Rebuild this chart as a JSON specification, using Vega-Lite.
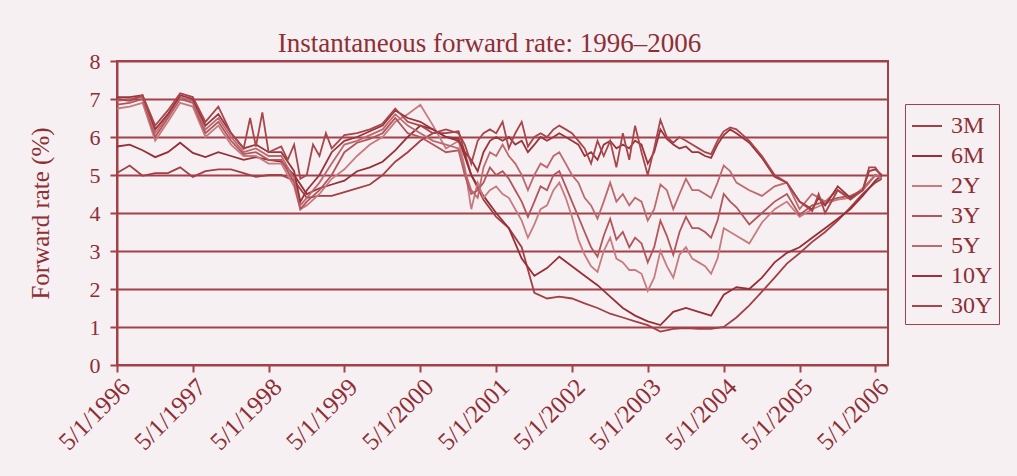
{
"$schema":"https://vega.github.io/schema/vega-lite/v6.json",
"width":771,"height":304,
"autosize":{"type":"none"},
"padding":{"left":117,"top":61,"right":129,"bottom":111},
"background":"#f6f0f2",
"title":{"text":"Instantaneous forward rate: 1996–2006","font":"Liberation Serif","fontSize":27,"fontWeight":"normal","color":"#8e2f36","offset":-8,"dx":-13},
"config":{
 "view":{"stroke":"#a2414a","strokeWidth":2,"fill":"#f6f0f2"},
 "axis":{"labelFont":"Liberation Serif","titleFont":"Liberation Serif","labelColor":"#8e2f36","titleColor":"#8e2f36","domainColor":"#a2414a","tickColor":"#a2414a","domainWidth":2,"tickWidth":2,"gridColor":"#a2414a"},
 "axisY":{"titleFontSize":25,"labelFontSize":22}
},
"data":{"values":[
{"s":"3M","d":"1996-05-01","v":5.05},{"s":"3M","d":"1996-07-01","v":5.25},{"s":"3M","d":"1996-09-01","v":4.98},{"s":"3M","d":"1996-11-01","v":5.05},
{"s":"3M","d":"1997-01-01","v":5.05},{"s":"3M","d":"1997-03-01","v":5.2},{"s":"3M","d":"1997-05-01","v":4.95},{"s":"3M","d":"1997-07-01","v":5.1},{"s":"3M","d":"1997-09-01","v":5.15},{"s":"3M","d":"1997-11-01","v":5.15},
{"s":"3M","d":"1998-01-01","v":5.05},{"s":"3M","d":"1998-03-01","v":4.95},{"s":"3M","d":"1998-05-01","v":5.0},{"s":"3M","d":"1998-07-01","v":5.0},{"s":"3M","d":"1998-09-01","v":4.85},{"s":"3M","d":"1998-11-01","v":4.4},
{"s":"3M","d":"1999-01-01","v":4.45},{"s":"3M","d":"1999-03-01","v":4.45},{"s":"3M","d":"1999-05-01","v":4.55},{"s":"3M","d":"1999-07-01","v":4.65},{"s":"3M","d":"1999-09-01","v":4.75},{"s":"3M","d":"1999-11-01","v":5.0},
{"s":"3M","d":"2000-01-01","v":5.35},{"s":"3M","d":"2000-03-01","v":5.6},{"s":"3M","d":"2000-05-01","v":5.9},{"s":"3M","d":"2000-07-01","v":6.1},{"s":"3M","d":"2000-09-01","v":6.1},{"s":"3M","d":"2000-11-01","v":6.15},
{"s":"3M","d":"2001-01-01","v":5.0},{"s":"3M","d":"2001-03-01","v":4.35},{"s":"3M","d":"2001-05-01","v":3.9},{"s":"3M","d":"2001-07-01","v":3.6},{"s":"3M","d":"2001-09-01","v":3.1},{"s":"3M","d":"2001-11-01","v":1.9},
{"s":"3M","d":"2002-01-01","v":1.75},{"s":"3M","d":"2002-03-01","v":1.8},{"s":"3M","d":"2002-05-01","v":1.75},{"s":"3M","d":"2002-07-01","v":1.62},{"s":"3M","d":"2002-09-01","v":1.5},{"s":"3M","d":"2002-11-01","v":1.35},
{"s":"3M","d":"2003-01-01","v":1.25},{"s":"3M","d":"2003-03-01","v":1.15},{"s":"3M","d":"2003-05-01","v":1.05},{"s":"3M","d":"2003-07-01","v":0.88},{"s":"3M","d":"2003-09-01","v":0.95},{"s":"3M","d":"2003-11-01","v":0.97},
{"s":"3M","d":"2004-01-01","v":0.95},{"s":"3M","d":"2004-03-01","v":0.95},{"s":"3M","d":"2004-05-01","v":1.0},{"s":"3M","d":"2004-07-01","v":1.25},{"s":"3M","d":"2004-09-01","v":1.57},{"s":"3M","d":"2004-11-01","v":1.93},
{"s":"3M","d":"2005-01-01","v":2.3},{"s":"3M","d":"2005-03-01","v":2.67},{"s":"3M","d":"2005-05-01","v":2.94},{"s":"3M","d":"2005-07-01","v":3.24},{"s":"3M","d":"2005-09-01","v":3.5},{"s":"3M","d":"2005-11-01","v":3.8},
{"s":"3M","d":"2006-01-01","v":4.15},{"s":"3M","d":"2006-03-01","v":4.5},{"s":"3M","d":"2006-05-01","v":4.8},{"s":"3M","d":"2006-06-01","v":4.9},

{"s":"6M","d":"1996-05-01","v":5.75},{"s":"6M","d":"1996-07-01","v":5.8},{"s":"6M","d":"1996-09-01","v":5.65},{"s":"6M","d":"1996-11-01","v":5.47},
{"s":"6M","d":"1997-01-01","v":5.6},{"s":"6M","d":"1997-03-01","v":5.85},{"s":"6M","d":"1997-05-01","v":5.58},{"s":"6M","d":"1997-07-01","v":5.47},{"s":"6M","d":"1997-09-01","v":5.6},{"s":"6M","d":"1997-11-01","v":5.5},
{"s":"6M","d":"1998-01-01","v":5.4},{"s":"6M","d":"1998-03-01","v":5.47},{"s":"6M","d":"1998-05-01","v":5.4},{"s":"6M","d":"1998-07-01","v":5.35},{"s":"6M","d":"1998-09-01","v":5.0},{"s":"6M","d":"1998-11-01","v":4.5},
{"s":"6M","d":"1999-01-01","v":4.65},{"s":"6M","d":"1999-03-01","v":4.75},{"s":"6M","d":"1999-05-01","v":4.85},{"s":"6M","d":"1999-07-01","v":5.1},{"s":"6M","d":"1999-09-01","v":5.2},{"s":"6M","d":"1999-11-01","v":5.35},
{"s":"6M","d":"2000-01-01","v":5.65},{"s":"6M","d":"2000-03-01","v":6.0},{"s":"6M","d":"2000-05-01","v":6.3},{"s":"6M","d":"2000-07-01","v":6.2},{"s":"6M","d":"2000-09-01","v":6.0},{"s":"6M","d":"2000-11-01","v":5.95},
{"s":"6M","d":"2001-01-01","v":5.0},{"s":"6M","d":"2001-03-01","v":4.45},{"s":"6M","d":"2001-05-01","v":4.0},{"s":"6M","d":"2001-07-01","v":3.6},{"s":"6M","d":"2001-09-01","v":2.8},{"s":"6M","d":"2001-11-01","v":2.35},
{"s":"6M","d":"2002-01-01","v":2.55},{"s":"6M","d":"2002-03-01","v":2.85},{"s":"6M","d":"2002-05-01","v":2.6},{"s":"6M","d":"2002-07-01","v":2.35},{"s":"6M","d":"2002-09-01","v":2.1},{"s":"6M","d":"2002-11-01","v":1.8},
{"s":"6M","d":"2003-01-01","v":1.5},{"s":"6M","d":"2003-03-01","v":1.3},{"s":"6M","d":"2003-05-01","v":1.15},{"s":"6M","d":"2003-07-01","v":1.05},{"s":"6M","d":"2003-09-01","v":1.4},{"s":"6M","d":"2003-11-01","v":1.5},
{"s":"6M","d":"2004-01-01","v":1.4},{"s":"6M","d":"2004-03-01","v":1.3},{"s":"6M","d":"2004-05-01","v":1.85},{"s":"6M","d":"2004-07-01","v":2.05},{"s":"6M","d":"2004-09-01","v":2.0},{"s":"6M","d":"2004-11-01","v":2.3},
{"s":"6M","d":"2005-01-01","v":2.7},{"s":"6M","d":"2005-03-01","v":2.95},{"s":"6M","d":"2005-05-01","v":3.1},{"s":"6M","d":"2005-07-01","v":3.35},{"s":"6M","d":"2005-09-01","v":3.6},{"s":"6M","d":"2005-11-01","v":3.85},
{"s":"6M","d":"2006-01-01","v":4.1},{"s":"6M","d":"2006-03-01","v":4.45},{"s":"6M","d":"2006-05-01","v":4.85},{"s":"6M","d":"2006-06-01","v":5.0},

{"s":"2Y","d":"1996-05-01","v":6.75},{"s":"2Y","d":"1996-07-01","v":6.8},{"s":"2Y","d":"1996-09-01","v":6.9},{"s":"2Y","d":"1996-11-01","v":5.9},
{"s":"2Y","d":"1997-01-01","v":6.4},{"s":"2Y","d":"1997-03-01","v":6.9},{"s":"2Y","d":"1997-05-01","v":6.8},{"s":"2Y","d":"1997-07-01","v":6.0},{"s":"2Y","d":"1997-09-01","v":6.3},{"s":"2Y","d":"1997-11-01","v":5.8},
{"s":"2Y","d":"1998-01-01","v":5.5},{"s":"2Y","d":"1998-03-01","v":5.5},{"s":"2Y","d":"1998-05-01","v":5.3},{"s":"2Y","d":"1998-07-01","v":5.3},{"s":"2Y","d":"1998-09-01","v":4.7},{"s":"2Y","d":"1998-10-01","v":4.1},{"s":"2Y","d":"1998-11-01","v":4.2},
{"s":"2Y","d":"1999-01-01","v":4.5},{"s":"2Y","d":"1999-03-01","v":4.9},{"s":"2Y","d":"1999-05-01","v":5.15},{"s":"2Y","d":"1999-07-01","v":5.5},{"s":"2Y","d":"1999-09-01","v":5.8},{"s":"2Y","d":"1999-11-01","v":6.0},
{"s":"2Y","d":"2000-01-01","v":6.4},{"s":"2Y","d":"2000-03-01","v":6.6},{"s":"2Y","d":"2000-05-01","v":6.85},{"s":"2Y","d":"2000-07-01","v":6.3},{"s":"2Y","d":"2000-09-01","v":5.7},{"s":"2Y","d":"2000-11-01","v":5.9},{"s":"2Y","d":"2000-12-01","v":5.2},
{"s":"2Y","d":"2001-01-01","v":4.1},{"s":"2Y","d":"2001-02-01","v":4.8},{"s":"2Y","d":"2001-03-01","v":4.4},{"s":"2Y","d":"2001-04-01","v":4.6},{"s":"2Y","d":"2001-05-01","v":4.7},{"s":"2Y","d":"2001-06-01","v":4.5},{"s":"2Y","d":"2001-07-01","v":4.4},{"s":"2Y","d":"2001-08-01","v":4.1},{"s":"2Y","d":"2001-09-01","v":3.8},{"s":"2Y","d":"2001-10-01","v":3.35},{"s":"2Y","d":"2001-11-01","v":3.7},{"s":"2Y","d":"2001-12-01","v":4.1},
{"s":"2Y","d":"2002-01-01","v":4.2},{"s":"2Y","d":"2002-02-01","v":4.6},{"s":"2Y","d":"2002-03-01","v":4.8},{"s":"2Y","d":"2002-04-01","v":4.4},{"s":"2Y","d":"2002-05-01","v":3.9},{"s":"2Y","d":"2002-06-01","v":3.3},{"s":"2Y","d":"2002-07-01","v":2.9},{"s":"2Y","d":"2002-08-01","v":2.6},{"s":"2Y","d":"2002-09-01","v":2.45},{"s":"2Y","d":"2002-10-01","v":3.0},{"s":"2Y","d":"2002-11-01","v":3.35},{"s":"2Y","d":"2002-12-01","v":2.8},
{"s":"2Y","d":"2003-01-01","v":2.7},{"s":"2Y","d":"2003-02-01","v":2.5},{"s":"2Y","d":"2003-03-01","v":2.5},{"s":"2Y","d":"2003-04-01","v":2.4},{"s":"2Y","d":"2003-05-01","v":1.95},{"s":"2Y","d":"2003-06-01","v":2.3},{"s":"2Y","d":"2003-07-01","v":3.0},{"s":"2Y","d":"2003-08-01","v":2.6},{"s":"2Y","d":"2003-09-01","v":2.3},{"s":"2Y","d":"2003-10-01","v":2.9},{"s":"2Y","d":"2003-11-01","v":3.1},{"s":"2Y","d":"2003-12-01","v":2.8},
{"s":"2Y","d":"2004-01-01","v":2.7},{"s":"2Y","d":"2004-02-01","v":2.6},{"s":"2Y","d":"2004-03-01","v":2.4},{"s":"2Y","d":"2004-04-01","v":2.8},{"s":"2Y","d":"2004-05-01","v":3.6},{"s":"2Y","d":"2004-06-01","v":3.5},{"s":"2Y","d":"2004-07-01","v":3.4},{"s":"2Y","d":"2004-09-01","v":3.2},{"s":"2Y","d":"2004-11-01","v":3.75},
{"s":"2Y","d":"2005-01-01","v":4.1},{"s":"2Y","d":"2005-03-01","v":4.3},{"s":"2Y","d":"2005-05-01","v":3.9},{"s":"2Y","d":"2005-07-01","v":4.1},{"s":"2Y","d":"2005-09-01","v":4.25},{"s":"2Y","d":"2005-11-01","v":4.35},
{"s":"2Y","d":"2006-01-01","v":4.4},{"s":"2Y","d":"2006-03-01","v":4.65},{"s":"2Y","d":"2006-05-01","v":5.0},{"s":"2Y","d":"2006-06-01","v":4.95},

{"s":"3Y","d":"1996-05-01","v":6.85},{"s":"3Y","d":"1996-07-01","v":6.9},{"s":"3Y","d":"1996-09-01","v":7.0},{"s":"3Y","d":"1996-11-01","v":6.0},
{"s":"3Y","d":"1997-01-01","v":6.5},{"s":"3Y","d":"1997-03-01","v":7.0},{"s":"3Y","d":"1997-05-01","v":6.9},{"s":"3Y","d":"1997-07-01","v":6.1},{"s":"3Y","d":"1997-09-01","v":6.4},{"s":"3Y","d":"1997-11-01","v":5.9},
{"s":"3Y","d":"1998-01-01","v":5.55},{"s":"3Y","d":"1998-03-01","v":5.6},{"s":"3Y","d":"1998-05-01","v":5.4},{"s":"3Y","d":"1998-07-01","v":5.4},{"s":"3Y","d":"1998-09-01","v":4.8},{"s":"3Y","d":"1998-10-01","v":4.1},{"s":"3Y","d":"1998-11-01","v":4.3},
{"s":"3Y","d":"1999-01-01","v":4.6},{"s":"3Y","d":"1999-03-01","v":5.0},{"s":"3Y","d":"1999-05-01","v":5.6},{"s":"3Y","d":"1999-07-01","v":5.85},{"s":"3Y","d":"1999-09-01","v":5.95},{"s":"3Y","d":"1999-11-01","v":6.1},
{"s":"3Y","d":"2000-01-01","v":6.5},{"s":"3Y","d":"2000-03-01","v":6.1},{"s":"3Y","d":"2000-05-01","v":6.0},{"s":"3Y","d":"2000-07-01","v":5.8},{"s":"3Y","d":"2000-09-01","v":5.6},{"s":"3Y","d":"2000-11-01","v":5.65},{"s":"3Y","d":"2000-12-01","v":5.0},
{"s":"3Y","d":"2001-01-01","v":4.5},{"s":"3Y","d":"2001-02-01","v":4.6},{"s":"3Y","d":"2001-03-01","v":4.8},{"s":"3Y","d":"2001-04-01","v":5.2},{"s":"3Y","d":"2001-05-01","v":5.0},{"s":"3Y","d":"2001-06-01","v":5.1},{"s":"3Y","d":"2001-07-01","v":4.9},{"s":"3Y","d":"2001-08-01","v":4.6},{"s":"3Y","d":"2001-09-01","v":4.3},{"s":"3Y","d":"2001-10-01","v":3.9},{"s":"3Y","d":"2001-11-01","v":4.3},{"s":"3Y","d":"2001-12-01","v":4.7},
{"s":"3Y","d":"2002-01-01","v":4.6},{"s":"3Y","d":"2002-02-01","v":5.0},{"s":"3Y","d":"2002-03-01","v":5.1},{"s":"3Y","d":"2002-04-01","v":4.7},{"s":"3Y","d":"2002-05-01","v":4.3},{"s":"3Y","d":"2002-06-01","v":3.9},{"s":"3Y","d":"2002-07-01","v":3.5},{"s":"3Y","d":"2002-08-01","v":3.1},{"s":"3Y","d":"2002-09-01","v":2.85},{"s":"3Y","d":"2002-10-01","v":3.4},{"s":"3Y","d":"2002-11-01","v":3.85},{"s":"3Y","d":"2002-12-01","v":3.3},
{"s":"3Y","d":"2003-01-01","v":3.5},{"s":"3Y","d":"2003-02-01","v":3.1},{"s":"3Y","d":"2003-03-01","v":3.35},{"s":"3Y","d":"2003-04-01","v":3.2},{"s":"3Y","d":"2003-05-01","v":2.7},{"s":"3Y","d":"2003-06-01","v":3.1},{"s":"3Y","d":"2003-07-01","v":3.8},{"s":"3Y","d":"2003-08-01","v":3.4},{"s":"3Y","d":"2003-09-01","v":2.9},{"s":"3Y","d":"2003-10-01","v":3.5},{"s":"3Y","d":"2003-11-01","v":3.9},{"s":"3Y","d":"2003-12-01","v":3.6},
{"s":"3Y","d":"2004-01-01","v":3.6},{"s":"3Y","d":"2004-02-01","v":3.5},{"s":"3Y","d":"2004-03-01","v":3.35},{"s":"3Y","d":"2004-04-01","v":3.8},{"s":"3Y","d":"2004-05-01","v":4.5},{"s":"3Y","d":"2004-06-01","v":4.3},{"s":"3Y","d":"2004-07-01","v":4.15},{"s":"3Y","d":"2004-09-01","v":3.7},{"s":"3Y","d":"2004-11-01","v":4.0},
{"s":"3Y","d":"2005-01-01","v":4.3},{"s":"3Y","d":"2005-03-01","v":4.5},{"s":"3Y","d":"2005-05-01","v":3.95},{"s":"3Y","d":"2005-07-01","v":4.2},{"s":"3Y","d":"2005-09-01","v":4.3},{"s":"3Y","d":"2005-11-01","v":4.4},
{"s":"3Y","d":"2006-01-01","v":4.45},{"s":"3Y","d":"2006-03-01","v":4.6},{"s":"3Y","d":"2006-05-01","v":5.0},{"s":"3Y","d":"2006-06-01","v":4.9},

{"s":"5Y","d":"1996-05-01","v":6.95},{"s":"5Y","d":"1996-07-01","v":7.0},{"s":"5Y","d":"1996-09-01","v":7.05},{"s":"5Y","d":"1996-11-01","v":6.1},
{"s":"5Y","d":"1997-01-01","v":6.55},{"s":"5Y","d":"1997-03-01","v":7.05},{"s":"5Y","d":"1997-05-01","v":6.95},{"s":"5Y","d":"1997-07-01","v":6.2},{"s":"5Y","d":"1997-09-01","v":6.5},{"s":"5Y","d":"1997-11-01","v":6.0},
{"s":"5Y","d":"1998-01-01","v":5.6},{"s":"5Y","d":"1998-03-01","v":5.7},{"s":"5Y","d":"1998-05-01","v":5.5},{"s":"5Y","d":"1998-07-01","v":5.5},{"s":"5Y","d":"1998-09-01","v":4.9},{"s":"5Y","d":"1998-10-01","v":4.2},{"s":"5Y","d":"1998-11-01","v":4.4},
{"s":"5Y","d":"1999-01-01","v":4.8},{"s":"5Y","d":"1999-03-01","v":5.3},{"s":"5Y","d":"1999-05-01","v":5.8},{"s":"5Y","d":"1999-07-01","v":5.9},{"s":"5Y","d":"1999-09-01","v":6.05},{"s":"5Y","d":"1999-11-01","v":6.2},
{"s":"5Y","d":"2000-01-01","v":6.6},{"s":"5Y","d":"2000-03-01","v":6.3},{"s":"5Y","d":"2000-05-01","v":6.1},{"s":"5Y","d":"2000-07-01","v":5.9},{"s":"5Y","d":"2000-09-01","v":5.8},{"s":"5Y","d":"2000-11-01","v":5.7},{"s":"5Y","d":"2000-12-01","v":5.1},
{"s":"5Y","d":"2001-01-01","v":4.6},{"s":"5Y","d":"2001-02-01","v":4.4},{"s":"5Y","d":"2001-03-01","v":5.2},{"s":"5Y","d":"2001-04-01","v":5.6},{"s":"5Y","d":"2001-05-01","v":5.5},{"s":"5Y","d":"2001-06-01","v":5.8},{"s":"5Y","d":"2001-07-01","v":5.5},{"s":"5Y","d":"2001-08-01","v":5.3},{"s":"5Y","d":"2001-09-01","v":5.0},{"s":"5Y","d":"2001-10-01","v":4.6},{"s":"5Y","d":"2001-11-01","v":5.0},{"s":"5Y","d":"2001-12-01","v":5.3},
{"s":"5Y","d":"2002-01-01","v":5.2},{"s":"5Y","d":"2002-02-01","v":5.5},{"s":"5Y","d":"2002-03-01","v":5.6},{"s":"5Y","d":"2002-04-01","v":5.3},{"s":"5Y","d":"2002-05-01","v":5.0},{"s":"5Y","d":"2002-06-01","v":4.8},{"s":"5Y","d":"2002-07-01","v":4.4},{"s":"5Y","d":"2002-08-01","v":4.2},{"s":"5Y","d":"2002-09-01","v":3.85},{"s":"5Y","d":"2002-10-01","v":4.3},{"s":"5Y","d":"2002-11-01","v":4.8},{"s":"5Y","d":"2002-12-01","v":4.3},
{"s":"5Y","d":"2003-01-01","v":4.5},{"s":"5Y","d":"2003-02-01","v":4.2},{"s":"5Y","d":"2003-03-01","v":4.4},{"s":"5Y","d":"2003-04-01","v":4.3},{"s":"5Y","d":"2003-05-01","v":3.8},{"s":"5Y","d":"2003-06-01","v":4.1},{"s":"5Y","d":"2003-07-01","v":4.75},{"s":"5Y","d":"2003-08-01","v":4.6},{"s":"5Y","d":"2003-09-01","v":4.1},{"s":"5Y","d":"2003-10-01","v":4.5},{"s":"5Y","d":"2003-11-01","v":4.9},{"s":"5Y","d":"2003-12-01","v":4.6},
{"s":"5Y","d":"2004-01-01","v":4.6},{"s":"5Y","d":"2004-02-01","v":4.5},{"s":"5Y","d":"2004-03-01","v":4.4},{"s":"5Y","d":"2004-04-01","v":4.8},{"s":"5Y","d":"2004-05-01","v":5.25},{"s":"5Y","d":"2004-06-01","v":5.1},{"s":"5Y","d":"2004-07-01","v":4.8},{"s":"5Y","d":"2004-09-01","v":4.6},{"s":"5Y","d":"2004-11-01","v":4.45},
{"s":"5Y","d":"2005-01-01","v":4.7},{"s":"5Y","d":"2005-03-01","v":4.8},{"s":"5Y","d":"2005-05-01","v":4.1},{"s":"5Y","d":"2005-07-01","v":4.5},{"s":"5Y","d":"2005-09-01","v":4.3},{"s":"5Y","d":"2005-11-01","v":4.6},
{"s":"5Y","d":"2006-01-01","v":4.4},{"s":"5Y","d":"2006-03-01","v":4.6},{"s":"5Y","d":"2006-05-01","v":5.0},{"s":"5Y","d":"2006-06-01","v":4.9},

{"s":"10Y","d":"1996-05-01","v":7.05},{"s":"10Y","d":"1996-07-01","v":7.05},{"s":"10Y","d":"1996-09-01","v":7.1},{"s":"10Y","d":"1996-11-01","v":6.2},
{"s":"10Y","d":"1997-01-01","v":6.6},{"s":"10Y","d":"1997-03-01","v":7.1},{"s":"10Y","d":"1997-05-01","v":7.0},{"s":"10Y","d":"1997-07-01","v":6.3},{"s":"10Y","d":"1997-09-01","v":6.6},{"s":"10Y","d":"1997-11-01","v":6.1},
{"s":"10Y","d":"1998-01-01","v":5.7},{"s":"10Y","d":"1998-03-01","v":5.8},{"s":"10Y","d":"1998-05-01","v":5.6},{"s":"10Y","d":"1998-07-01","v":5.6},{"s":"10Y","d":"1998-09-01","v":5.1},{"s":"10Y","d":"1998-10-01","v":4.3},{"s":"10Y","d":"1998-11-01","v":4.6},
{"s":"10Y","d":"1999-01-01","v":5.0},{"s":"10Y","d":"1999-03-01","v":5.6},{"s":"10Y","d":"1999-05-01","v":5.9},{"s":"10Y","d":"1999-07-01","v":6.0},{"s":"10Y","d":"1999-09-01","v":6.15},{"s":"10Y","d":"1999-11-01","v":6.3},
{"s":"10Y","d":"2000-01-01","v":6.7},{"s":"10Y","d":"2000-03-01","v":6.5},{"s":"10Y","d":"2000-05-01","v":6.4},{"s":"10Y","d":"2000-07-01","v":6.2},{"s":"10Y","d":"2000-09-01","v":6.0},{"s":"10Y","d":"2000-11-01","v":5.9},{"s":"10Y","d":"2000-12-01","v":5.6},
{"s":"10Y","d":"2001-01-01","v":5.4},{"s":"10Y","d":"2001-02-01","v":5.1},{"s":"10Y","d":"2001-03-01","v":5.6},{"s":"10Y","d":"2001-04-01","v":5.9},{"s":"10Y","d":"2001-05-01","v":6.0},{"s":"10Y","d":"2001-06-01","v":5.9},{"s":"10Y","d":"2001-07-01","v":6.0},{"s":"10Y","d":"2001-08-01","v":5.8},{"s":"10Y","d":"2001-09-01","v":5.9},{"s":"10Y","d":"2001-10-01","v":5.6},{"s":"10Y","d":"2001-11-01","v":5.8},{"s":"10Y","d":"2001-12-01","v":6.0},
{"s":"10Y","d":"2002-01-01","v":5.9},{"s":"10Y","d":"2002-02-01","v":6.0},{"s":"10Y","d":"2002-03-01","v":6.1},{"s":"10Y","d":"2002-04-01","v":6.0},{"s":"10Y","d":"2002-05-01","v":5.9},{"s":"10Y","d":"2002-06-01","v":5.8},{"s":"10Y","d":"2002-07-01","v":5.5},{"s":"10Y","d":"2002-08-01","v":5.6},{"s":"10Y","d":"2002-09-01","v":5.4},{"s":"10Y","d":"2002-10-01","v":5.8},{"s":"10Y","d":"2002-11-01","v":5.9},{"s":"10Y","d":"2002-12-01","v":5.7},
{"s":"10Y","d":"2003-01-01","v":5.8},{"s":"10Y","d":"2003-02-01","v":5.7},{"s":"10Y","d":"2003-03-01","v":5.9},{"s":"10Y","d":"2003-04-01","v":5.8},{"s":"10Y","d":"2003-05-01","v":5.3},{"s":"10Y","d":"2003-06-01","v":5.6},{"s":"10Y","d":"2003-07-01","v":6.2},{"s":"10Y","d":"2003-08-01","v":5.95},{"s":"10Y","d":"2003-09-01","v":5.8},{"s":"10Y","d":"2003-10-01","v":5.7},{"s":"10Y","d":"2003-11-01","v":5.75},{"s":"10Y","d":"2003-12-01","v":5.6},
{"s":"10Y","d":"2004-01-01","v":5.6},{"s":"10Y","d":"2004-02-01","v":5.5},{"s":"10Y","d":"2004-03-01","v":5.45},{"s":"10Y","d":"2004-04-01","v":5.8},{"s":"10Y","d":"2004-05-01","v":6.05},{"s":"10Y","d":"2004-06-01","v":6.2},{"s":"10Y","d":"2004-07-01","v":6.1},{"s":"10Y","d":"2004-09-01","v":5.85},{"s":"10Y","d":"2004-11-01","v":5.45},
{"s":"10Y","d":"2005-01-01","v":4.95},{"s":"10Y","d":"2005-03-01","v":4.8},{"s":"10Y","d":"2005-05-01","v":4.3},{"s":"10Y","d":"2005-07-01","v":4.1},{"s":"10Y","d":"2005-08-01","v":4.4},{"s":"10Y","d":"2005-09-01","v":4.2},{"s":"10Y","d":"2005-11-01","v":4.7},
{"s":"10Y","d":"2006-01-01","v":4.4},{"s":"10Y","d":"2006-03-01","v":4.6},{"s":"10Y","d":"2006-04-01","v":5.1},{"s":"10Y","d":"2006-05-01","v":5.15},{"s":"10Y","d":"2006-06-01","v":5.0},

{"s":"30Y","d":"1996-05-01","v":7.0},{"s":"30Y","d":"1996-07-01","v":6.95},{"s":"30Y","d":"1996-09-01","v":7.1},{"s":"30Y","d":"1996-11-01","v":6.3},
{"s":"30Y","d":"1997-01-01","v":6.7},{"s":"30Y","d":"1997-03-01","v":7.15},{"s":"30Y","d":"1997-05-01","v":7.05},{"s":"30Y","d":"1997-07-01","v":6.4},{"s":"30Y","d":"1997-09-01","v":6.8},{"s":"30Y","d":"1997-11-01","v":6.1},
{"s":"30Y","d":"1998-01-01","v":5.7},{"s":"30Y","d":"1998-02-01","v":6.5},{"s":"30Y","d":"1998-03-01","v":5.75},{"s":"30Y","d":"1998-04-01","v":6.65},{"s":"30Y","d":"1998-05-01","v":5.6},{"s":"30Y","d":"1998-07-01","v":5.75},{"s":"30Y","d":"1998-08-01","v":5.4},{"s":"30Y","d":"1998-09-01","v":5.8},{"s":"30Y","d":"1998-10-01","v":4.9},{"s":"30Y","d":"1998-11-01","v":5.0},{"s":"30Y","d":"1998-12-01","v":5.8},
{"s":"30Y","d":"1999-01-01","v":5.5},{"s":"30Y","d":"1999-02-01","v":6.1},{"s":"30Y","d":"1999-03-01","v":5.7},{"s":"30Y","d":"1999-05-01","v":6.05},{"s":"30Y","d":"1999-07-01","v":6.1},{"s":"30Y","d":"1999-09-01","v":6.2},{"s":"30Y","d":"1999-11-01","v":6.35},
{"s":"30Y","d":"2000-01-01","v":6.75},{"s":"30Y","d":"2000-03-01","v":6.4},{"s":"30Y","d":"2000-05-01","v":6.3},{"s":"30Y","d":"2000-07-01","v":6.1},{"s":"30Y","d":"2000-09-01","v":6.2},{"s":"30Y","d":"2000-11-01","v":6.1},{"s":"30Y","d":"2000-12-01","v":5.8},
{"s":"30Y","d":"2001-01-01","v":5.3},{"s":"30Y","d":"2001-02-01","v":5.9},{"s":"30Y","d":"2001-03-01","v":6.1},{"s":"30Y","d":"2001-04-01","v":6.2},{"s":"30Y","d":"2001-05-01","v":6.1},{"s":"30Y","d":"2001-06-01","v":6.4},{"s":"30Y","d":"2001-07-01","v":5.7},{"s":"30Y","d":"2001-08-01","v":6.1},{"s":"30Y","d":"2001-09-01","v":6.4},{"s":"30Y","d":"2001-10-01","v":5.75},{"s":"30Y","d":"2001-11-01","v":6.0},{"s":"30Y","d":"2001-12-01","v":6.1},
{"s":"30Y","d":"2002-01-01","v":6.0},{"s":"30Y","d":"2002-02-01","v":6.2},{"s":"30Y","d":"2002-03-01","v":6.3},{"s":"30Y","d":"2002-04-01","v":6.2},{"s":"30Y","d":"2002-05-01","v":6.1},{"s":"30Y","d":"2002-06-01","v":5.9},{"s":"30Y","d":"2002-07-01","v":5.7},{"s":"30Y","d":"2002-08-01","v":5.3},{"s":"30Y","d":"2002-09-01","v":5.9},{"s":"30Y","d":"2002-10-01","v":5.5},{"s":"30Y","d":"2002-11-01","v":5.9},{"s":"30Y","d":"2002-12-01","v":5.2},
{"s":"30Y","d":"2003-01-01","v":6.1},{"s":"30Y","d":"2003-02-01","v":5.4},{"s":"30Y","d":"2003-03-01","v":6.3},{"s":"30Y","d":"2003-04-01","v":5.6},{"s":"30Y","d":"2003-05-01","v":5.0},{"s":"30Y","d":"2003-06-01","v":5.7},{"s":"30Y","d":"2003-07-01","v":6.45},{"s":"30Y","d":"2003-08-01","v":6.0},{"s":"30Y","d":"2003-09-01","v":5.85},{"s":"30Y","d":"2003-10-01","v":6.0},{"s":"30Y","d":"2003-11-01","v":5.9},{"s":"30Y","d":"2003-12-01","v":5.8},
{"s":"30Y","d":"2004-01-01","v":5.7},{"s":"30Y","d":"2004-02-01","v":5.6},{"s":"30Y","d":"2004-03-01","v":5.55},{"s":"30Y","d":"2004-04-01","v":5.9},{"s":"30Y","d":"2004-05-01","v":6.15},{"s":"30Y","d":"2004-06-01","v":6.25},{"s":"30Y","d":"2004-07-01","v":6.2},{"s":"30Y","d":"2004-09-01","v":5.9},{"s":"30Y","d":"2004-11-01","v":5.5},
{"s":"30Y","d":"2005-01-01","v":5.0},{"s":"30Y","d":"2005-03-01","v":4.8},{"s":"30Y","d":"2005-05-01","v":4.3},{"s":"30Y","d":"2005-07-01","v":4.05},{"s":"30Y","d":"2005-08-01","v":4.5},{"s":"30Y","d":"2005-09-01","v":4.0},{"s":"30Y","d":"2005-11-01","v":4.6},
{"s":"30Y","d":"2006-01-01","v":4.35},{"s":"30Y","d":"2006-03-01","v":4.6},{"s":"30Y","d":"2006-04-01","v":5.2},{"s":"30Y","d":"2006-05-01","v":5.2},{"s":"30Y","d":"2006-06-01","v":4.95}
]},
"mark":{"type":"line","strokeWidth":1.8,"clip":true},
"encoding":{
 "x":{"field":"d","type":"temporal",
  "scale":{"type":"utc","domain":[{"year":1996,"month":5,"date":1,"utc":true},{"year":2006,"month":7,"date":1,"utc":true}]},
  "axis":{"title":null,"grid":false,"labelExpr":"utcFormat(datum.value, '%-m/%-d/%Y')","labelAngle":-45,"labelFontSize":25,"labelOverlap":false,"labelFlush":false,"labelBound":false,"tickSize":7,"labelPadding":2,"domain":false,
   "values":[{"year":1996,"month":5,"date":1,"utc":true},{"year":1997,"month":5,"date":1,"utc":true},{"year":1998,"month":5,"date":1,"utc":true},{"year":1999,"month":5,"date":1,"utc":true},{"year":2000,"month":5,"date":1,"utc":true},{"year":2001,"month":5,"date":1,"utc":true},{"year":2002,"month":5,"date":1,"utc":true},{"year":2003,"month":5,"date":1,"utc":true},{"year":2004,"month":5,"date":1,"utc":true},{"year":2005,"month":5,"date":1,"utc":true},{"year":2006,"month":5,"date":1,"utc":true}]}},
 "y":{"field":"v","type":"quantitative","scale":{"domain":[0,8],"nice":false},
  "axis":{"title":"Forward rate (%)","titleFontSize":25,"titleFontWeight":"normal","titlePadding":36,"values":[0,1,2,3,4,5,6,7,8],"labelFontSize":22,"tickSize":7,"labelPadding":10,"grid":true,"gridWidth":2}},
 "color":{"field":"s","type":"nominal",
  "scale":{"domain":["3M","6M","2Y","3Y","5Y","10Y","30Y"],"range":["#a33f45","#962f36","#c77b80","#b3555b","#bc6a70","#9b343a","#a8464c"]},
  "legend":{"title":null,"orient":"none","legendX":788,"legendY":43,"symbolType":"stroke","symbolSize":900,"symbolStrokeWidth":2,"labelFont":"Liberation Serif","labelFontSize":24,"labelColor":"#8e2f36","strokeColor":"#a2414a","padding":6,"rowPadding":2,"labelOffset":8}}
}
}
